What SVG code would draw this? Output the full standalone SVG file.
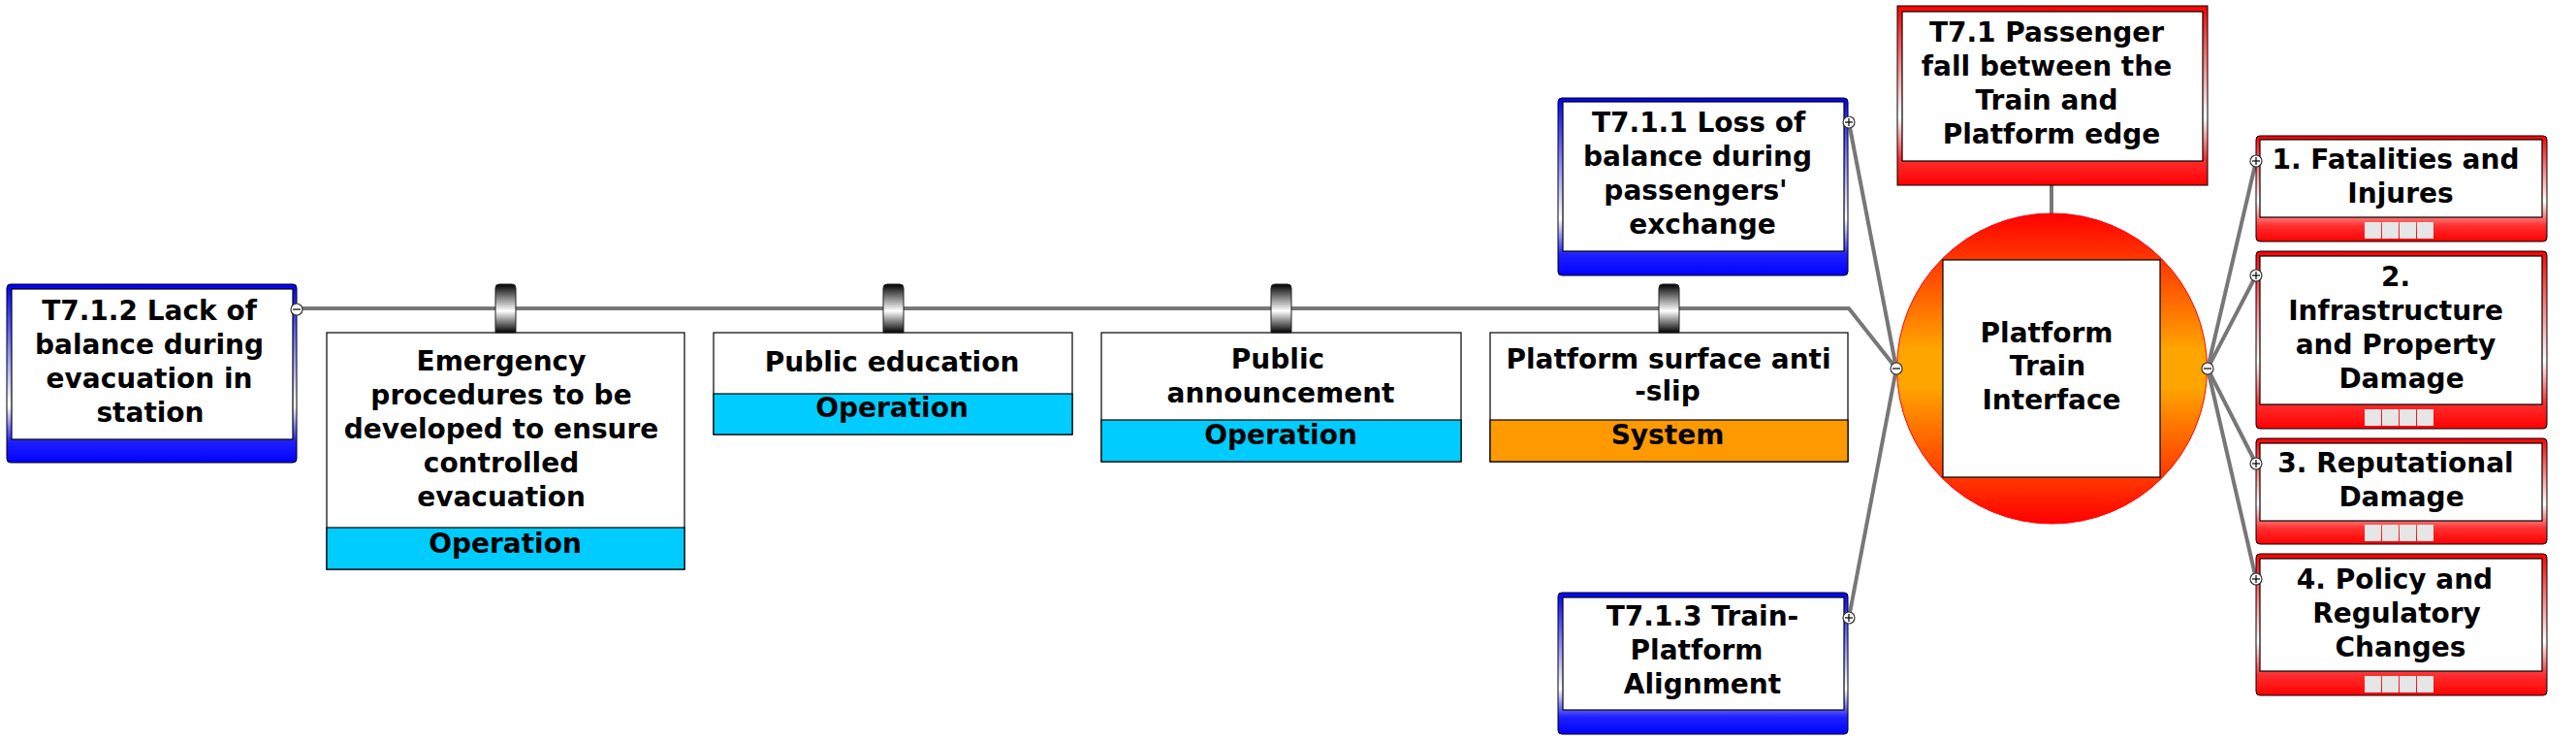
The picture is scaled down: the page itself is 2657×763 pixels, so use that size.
<svg xmlns="http://www.w3.org/2000/svg" width="2657" height="763" viewBox="0 0 2657 763">
<style>
.t{font-family:"DejaVu Sans",Verdana,sans-serif;font-weight:bold;font-size:28px;fill:#000;text-anchor:middle}
.cn{fill:none;stroke:#777;stroke-width:4;stroke-linejoin:round}
.box{fill:#fff;stroke:#000;stroke-width:1.2}
.op{fill:#00CCFF;stroke:#000;stroke-width:1.2}
.sys{fill:#FF9900;stroke:#000;stroke-width:1.2}
.blue{fill:url(#gBlue);stroke:#000;stroke-width:1}
.red{fill:url(#gRed);stroke:#000;stroke-width:1}
.knob{fill:url(#gKnob);stroke:#222;stroke-width:1}
.mk{fill:#fff;stroke:#333;stroke-width:1.2}
.sq{fill:#E6E6E6}
</style>
<defs>
<linearGradient id="gBlue" x1="0" y1="0" x2="0" y2="1">
<stop offset="0" stop-color="#0000FF"/><stop offset="0.68" stop-color="#FFFFFF"/><stop offset="0.88" stop-color="#2020FF"/><stop offset="1" stop-color="#0000FF"/>
</linearGradient>
<linearGradient id="gRed" x1="0" y1="0" x2="0" y2="1">
<stop offset="0" stop-color="#FF0000"/><stop offset="0.62" stop-color="#FFFFFF"/><stop offset="0.85" stop-color="#FF3030"/><stop offset="1" stop-color="#FF0000"/>
</linearGradient>
<linearGradient id="gCircle" x1="0" y1="0" x2="0" y2="1">
<stop offset="0" stop-color="#FF0000"/><stop offset="0.44" stop-color="#FFA500"/><stop offset="0.56" stop-color="#FFA500"/><stop offset="1" stop-color="#FF0000"/>
</linearGradient>
<linearGradient id="gKnob" x1="0" y1="0" x2="0" y2="1">
<stop offset="0" stop-color="#000"/><stop offset="0.55" stop-color="#fff"/><stop offset="1" stop-color="#000"/>
</linearGradient>
<g id="minus"><circle r="6" class="mk"/><line x1="-4" y1="0" x2="4" y2="0" stroke="#000" stroke-width="1.2"/></g>
<g id="plus"><circle r="6" class="mk"/><line x1="-4" y1="0" x2="4" y2="0" stroke="#000" stroke-width="1.2"/><line x1="0" y1="-4" x2="0" y2="4" stroke="#000" stroke-width="1.2"/></g>
<g id="sqs"><rect class="sq" x="0" y="0" width="17" height="17"/><rect class="sq" x="18" y="0" width="17" height="17"/><rect class="sq" x="36" y="0" width="17" height="17"/><rect class="sq" x="54" y="0" width="17" height="17"/></g>
</defs>
<rect width="2657" height="763" fill="#fff"/>

<g id="connectors">
<polyline class="cn" points="306,318 1907,318 1956,380"/>
<line class="cn" x1="1907" y1="126" x2="1956" y2="380"/>
<line class="cn" x1="1907" y1="637" x2="1956" y2="380"/>
<line class="cn" x1="2116" y1="191" x2="2116" y2="221"/>
<line class="cn" x1="2277" y1="380" x2="2327" y2="166"/>
<line class="cn" x1="2277" y1="380" x2="2327" y2="284"/>
<line class="cn" x1="2277" y1="380" x2="2327" y2="478"/>
<line class="cn" x1="2277" y1="380" x2="2327" y2="597"/>
</g>

<g id="node-t712">
<rect class="blue" x="7" y="293" width="299" height="184" rx="4"/>
<rect class="box" x="12" y="298" width="290" height="155"/>
<text class="t" x="154" y="330">T7.1.2 Lack of</text>
<text class="t" x="154" y="365">balance during</text>
<text class="t" x="154" y="400">evacuation in</text>
<text class="t" x="155" y="435">station</text>
<use href="#minus" x="306" y="319"/>
</g>

<g id="barrier-emergency">
<rect class="box" x="337" y="343" width="369" height="244"/>
<rect class="op" x="337" y="544" width="369" height="43"/>
<text class="t" x="517" y="382">Emergency</text>
<text class="t" x="517" y="417">procedures to be</text>
<text class="t" x="517" y="452">developed to ensure</text>
<text class="t" x="517" y="487">controlled</text>
<text class="t" x="517" y="522">evacuation</text>
<text class="t" x="521" y="570">Operation</text>
<path class="knob" d="M511,343 V297 Q511,293 515,293 H528 Q532,293 532,297 V343 Z"/>
</g>

<g id="barrier-education">
<rect class="box" x="736" y="343" width="370" height="105"/>
<rect class="op" x="736" y="406" width="370" height="42"/>
<text class="t" x="920" y="383">Public education</text>
<text class="t" x="920" y="430">Operation</text>
<path class="knob" d="M911,343 V297 Q911,293 915,293 H928 Q932,293 932,297 V343 Z"/>
</g>

<g id="barrier-announcement">
<rect class="box" x="1136" y="343" width="371" height="133"/>
<rect class="op" x="1136" y="433" width="371" height="43"/>
<text class="t" x="1318" y="380">Public</text>
<text class="t" x="1321" y="415">announcement</text>
<text class="t" x="1321" y="458">Operation</text>
<path class="knob" d="M1311,343 V297 Q1311,293 1315,293 H1328 Q1332,293 1332,297 V343 Z"/>
</g>

<g id="barrier-antislip">
<rect class="box" x="1537" y="343" width="369" height="133"/>
<rect class="sys" x="1537" y="433" width="369" height="43"/>
<text class="t" x="1721" y="380">Platform surface anti</text>
<text class="t" x="1720" y="413">-slip</text>
<text class="t" x="1720" y="458">System</text>
<path class="knob" d="M1711,343 V297 Q1711,293 1715,293 H1728 Q1732,293 1732,297 V343 Z"/>
</g>

<g id="node-t711">
<rect class="blue" x="1607" y="101" width="299" height="183" rx="4"/>
<rect class="box" x="1612" y="105" width="290" height="154"/>
<text class="t" x="1752" y="136">T7.1.1 Loss of</text>
<text class="t" x="1751" y="171">balance during</text>
<text class="t" x="1749" y="206">passengers'</text>
<text class="t" x="1756" y="241">exchange</text>
<use href="#plus" x="1907" y="126"/>
</g>

<g id="node-t713">
<rect class="blue" x="1607" y="611" width="299" height="146" rx="4"/>
<rect class="box" x="1612" y="616" width="290" height="116"/>
<text class="t" x="1756" y="645">T7.1.3 Train-</text>
<text class="t" x="1750" y="680">Platform</text>
<text class="t" x="1756" y="715">Alignment</text>
<use href="#plus" x="1907" y="637"/>
</g>

<g id="node-t71">
<rect class="red" x="1957" y="6" width="320" height="185"/>
<rect class="box" x="1962" y="12" width="310" height="154"/>
<text class="t" x="2111" y="43">T7.1 Passenger</text>
<text class="t" x="2111" y="78">fall between the</text>
<text class="t" x="2111" y="113">Train and</text>
<text class="t" x="2116" y="148">Platform edge</text>
</g>

<g id="node-center">
<circle cx="2116.5" cy="380" r="160" fill="url(#gCircle)" stroke="#FF0000" stroke-width="1"/>
<rect class="box" x="2004" y="268" width="224" height="224"/>
<text class="t" x="2111" y="353">Platform</text>
<text class="t" x="2112" y="387">Train</text>
<text class="t" x="2116" y="422">Interface</text>
<use href="#minus" x="1956" y="380"/>
<use href="#minus" x="2277" y="380"/>
</g>

<g id="cons-1">
<rect class="red" x="2327" y="140" width="300" height="109" rx="4"/>
<rect class="box" x="2331" y="144" width="291" height="80"/>
<text class="t" x="2471" y="174">1. Fatalities and</text>
<text class="t" x="2476" y="209">Injures</text>
<use href="#sqs" x="2439" y="229"/>
<use href="#plus" x="2327" y="166"/>
</g>

<g id="cons-2">
<rect class="red" x="2327" y="259" width="300" height="183" rx="4"/>
<rect class="box" x="2331" y="264" width="291" height="153"/>
<text class="t" x="2471" y="295">2.</text>
<text class="t" x="2471" y="330">Infrastructure</text>
<text class="t" x="2471" y="365">and Property</text>
<text class="t" x="2477" y="400">Damage</text>
<use href="#sqs" x="2439" y="422"/>
<use href="#plus" x="2327" y="284"/>
</g>

<g id="cons-3">
<rect class="red" x="2327" y="452" width="300" height="109" rx="4"/>
<rect class="box" x="2331" y="457" width="291" height="80"/>
<text class="t" x="2471" y="487">3. Reputational</text>
<text class="t" x="2477" y="522">Damage</text>
<use href="#sqs" x="2439" y="541"/>
<use href="#plus" x="2327" y="478"/>
</g>

<g id="cons-4">
<rect class="red" x="2327" y="571" width="300" height="146" rx="4"/>
<rect class="box" x="2331" y="576" width="291" height="116"/>
<text class="t" x="2470" y="607">4. Policy and</text>
<text class="t" x="2472" y="642">Regulatory</text>
<text class="t" x="2476" y="677">Changes</text>
<use href="#sqs" x="2439" y="697"/>
<use href="#plus" x="2327" y="597"/>
</g>
</svg>
